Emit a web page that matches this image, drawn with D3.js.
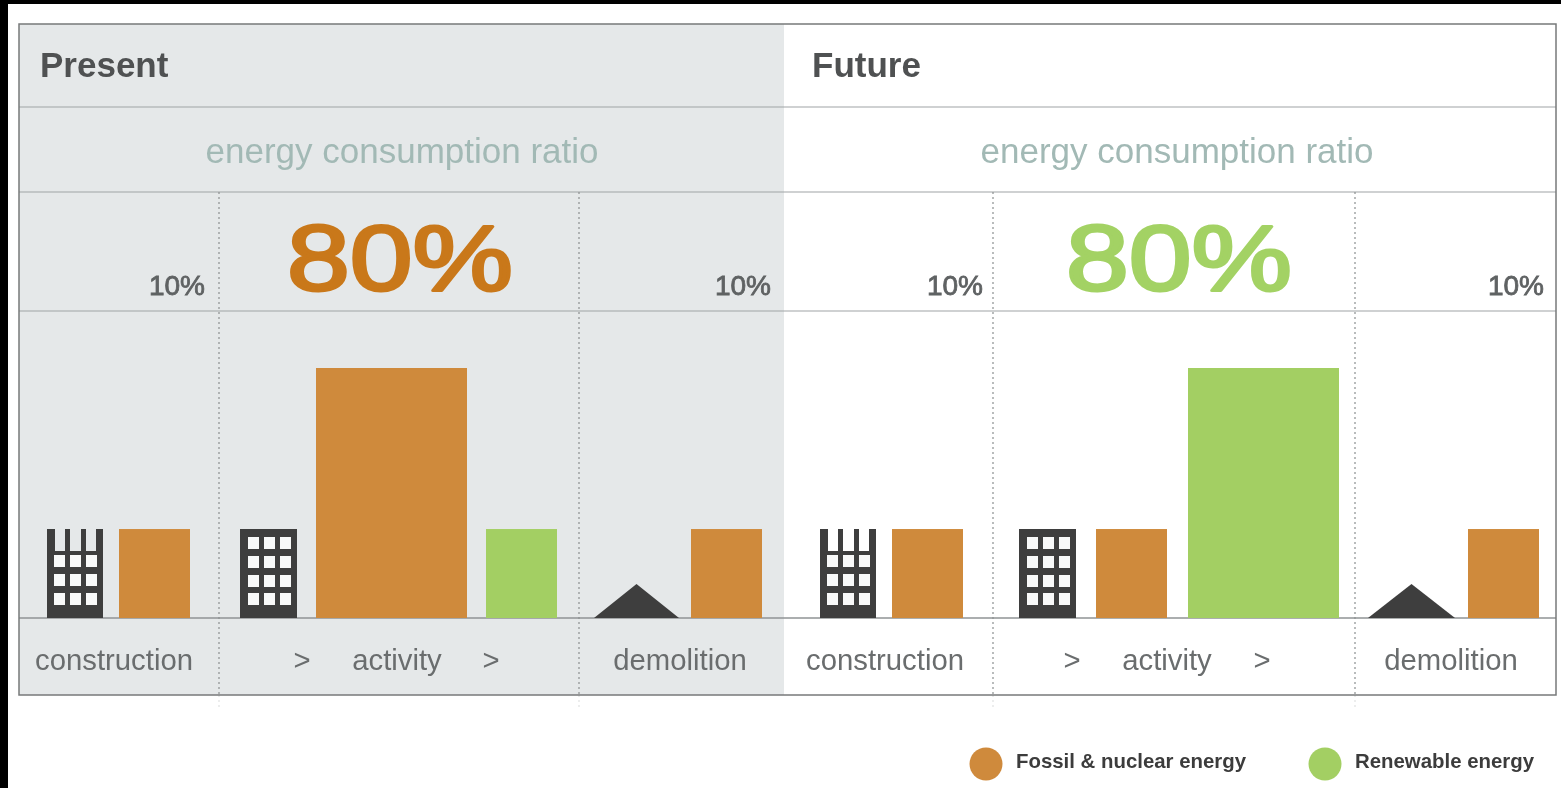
<!DOCTYPE html>
<html><head><meta charset="utf-8">
<script src="https://cdn.jsdelivr.net/npm/d3@7/dist/d3.min.js"></script>
<style>html,body{margin:0;padding:0;background:#000;overflow:hidden}
svg{display:block;filter:blur(0.5px)}text{font-family:"Liberation Sans",Arial,sans-serif}</style>
</head><body><svg id="c" width="1561" height="788"></svg>
<script>
const panels = ["Present", "Future"];
const ratioLabel = "energy consumption ratio";
const stages = ["construction", "activity", "demolition"];
const shareLabels = ["10%", "80%", "10%"];
const legendNames = ["Fossil & nuclear energy", "Renewable energy"];
// bar heights in relative units (1 = the 10% bar)
const barKeys = ["P-con-f","P-act-f","P-act-r","P-dem-f","F-con-f","F-act-f","F-act-r","F-dem-f"];
const barEnergy = ["fossil","fossil","renewable","fossil","fossil","fossil","renewable","fossil"];
const barValues = [1, 2.81, 1, 1, 1, 1, 2.81, 1];

const colors = {fossil:"#cf8a3c", renewable:"#a3cf63"};
const svg = d3.select("#c");
const L=19,R=1556,T=24,B=695,MID=784;
const rows = {head:107, ratio:192, share:311, base:618};
const y = d3.scaleLinear().domain([0,2.81]).range([rows.base,368]);
const xLeft = d3.scaleOrdinal().domain(barKeys).range([119,316,486,691,892,1096,1188,1468]);
const w = v => v>1 ? 151 : 71;
const dividers = [219,579,993,1355];

svg.append("rect").attr("x",8).attr("y",4).attr("width",1553).attr("height",784).attr("fill","#fff");
svg.append("rect").attr("x",L).attr("y",T).attr("width",MID-L).attr("height",B-T).attr("fill","#e5e8e9");

// grid
svg.selectAll("line.h").data([rows.head,rows.ratio,rows.share]).join("line")
  .attr("x1",L).attr("x2",R).attr("y1",d=>d).attr("y2",d=>d).attr("stroke","#a0a4a5").attr("stroke-width",1.1);
svg.append("line").attr("x1",L).attr("x2",R).attr("y1",rows.base).attr("y2",rows.base).attr("stroke","#8f9394").attr("stroke-width",1.3);
svg.selectAll("line.v").data(dividers).join("line")
  .attr("x1",d=>d).attr("x2",d=>d).attr("y1",rows.ratio).attr("y2",B)
  .attr("stroke","#8b8f90").attr("stroke-width",1.2).attr("stroke-dasharray","2 3");
svg.selectAll("line.vf").data(dividers).join("line")
  .attr("x1",d=>d).attr("x2",d=>d).attr("y1",B).attr("y2",B+14)
  .attr("stroke","#dfe1e2").attr("stroke-width",1.2).attr("stroke-dasharray","2 3");
svg.append("rect").attr("x",L).attr("y",T).attr("width",R-L).attr("height",B-T)
  .attr("fill","none").attr("stroke","#77797a").attr("stroke-width",1.5);

// bars
svg.selectAll("rect.bar").data(barKeys.map((k,i)=>({k,v:barValues[i],e:barEnergy[i]}))).join("rect")
  .attr("class","bar").attr("x",d=>xLeft(d.k)).attr("width",d=>w(d.v))
  .attr("y",d=>y(d.v)).attr("height",d=>y(0)-y(d.v)).attr("fill",d=>colors[d.e]);

// icons
const dark="#3e3e3e";
function building(g,x,open){
  const W=57,top=529;
  if(open){
    g.append("rect").attr("x",x+1).attr("y",top+22).attr("width",W-1).attr("height",rows.base-top-22).attr("fill",dark);
    [[1,8],[19,5],[35,5],[50,7]].forEach(([o,s])=>g.append("rect").attr("x",x+o).attr("y",top).attr("width",s).attr("height",26).attr("fill",dark));
  } else g.append("rect").attr("x",x).attr("y",top).attr("width",W).attr("height",rows.base-top).attr("fill",dark);
  const ys = open?[555,574,593]:[537,556,575,593];
  ys.forEach(yy=>[8,24,40].forEach(o=>g.append("rect").attr("x",x+o).attr("y",yy).attr("width",11).attr("height",12).attr("fill","#f8f9f9")));
}
const ig=svg.append("g");
building(ig,46,true);building(ig,240,false);building(ig,819,true);building(ig,1019,false);
[[594,679],[1368,1455]].forEach(([a,b])=>{
  ig.append("path").attr("d",d3.line()([[a,rows.base],[(a+b)/2,584],[b,rows.base]])).attr("fill",dark);
});

// text
const panelText=[{t:panels[0],x:40,c:402},{t:panels[1],x:812,c:1177}];
svg.selectAll("text.title").data(panelText).join("text").attr("x",d=>d.x).attr("y",77)
  .attr("font-size",35).attr("font-weight",700).attr("fill","#4f5152").text(d=>d.t);
svg.selectAll("text.ratio").data(panelText).join("text").attr("x",d=>d.c).attr("y",163)
  .attr("text-anchor","middle").attr("font-size",35).attr("fill","#a2b9b5").text(ratioLabel);

const big=[{x:287,c:"#c9781a"},{x:1066,c:"#a3d264"}];
svg.selectAll("text.big").data(big).join("text").attr("x",d=>d.x).attr("y",290)
  .attr("font-size",92).attr("textLength",226).attr("lengthAdjust","spacingAndGlyphs").attr("fill",d=>d.c)
  .attr("stroke",d=>d.c).attr("stroke-width",3).attr("stroke-linejoin","round").text(shareLabels[1]);
const small=[205,771,983,1544];
svg.selectAll("text.small").data(small).join("text").attr("x",d=>d).attr("y",295)
  .attr("text-anchor","end").attr("font-size",28).attr("fill","#5f6263")
  .attr("stroke","#5f6263").attr("stroke-width",0.8).text(shareLabels[0]);

const stagePos=[[stages[0],114],[stages[1],397],[stages[2],680],[stages[0],885],[stages[1],1167],[stages[2],1451]];
svg.selectAll("text.stage").data(stagePos).join("text").attr("x",d=>d[1]).attr("y",670)
  .attr("text-anchor","middle").attr("font-size",29.3).attr("fill","#6a6d6e").text(d=>d[0]);
svg.selectAll("text.gt").data([302,491,1072,1262]).join("text").attr("x",d=>d).attr("y",670)
  .attr("text-anchor","middle").attr("font-size",29.3).attr("fill","#6a6d6e").text(">");

// legend
const leg=[{n:legendNames[0],e:"fossil",cx:986,tx:1016},{n:legendNames[1],e:"renewable",cx:1325,tx:1355}];
svg.selectAll("ellipse.leg").data(leg).join("ellipse").attr("cx",d=>d.cx).attr("cy",764)
  .attr("rx",16.5).attr("ry",16.5).attr("fill",d=>colors[d.e]);
svg.selectAll("text.leg").data(leg).join("text").attr("x",d=>d.tx).attr("y",768)
  .attr("font-size",20.4).attr("font-weight",700).attr("fill","#3c3c3c").text(d=>d.n);
</script></body></html>
